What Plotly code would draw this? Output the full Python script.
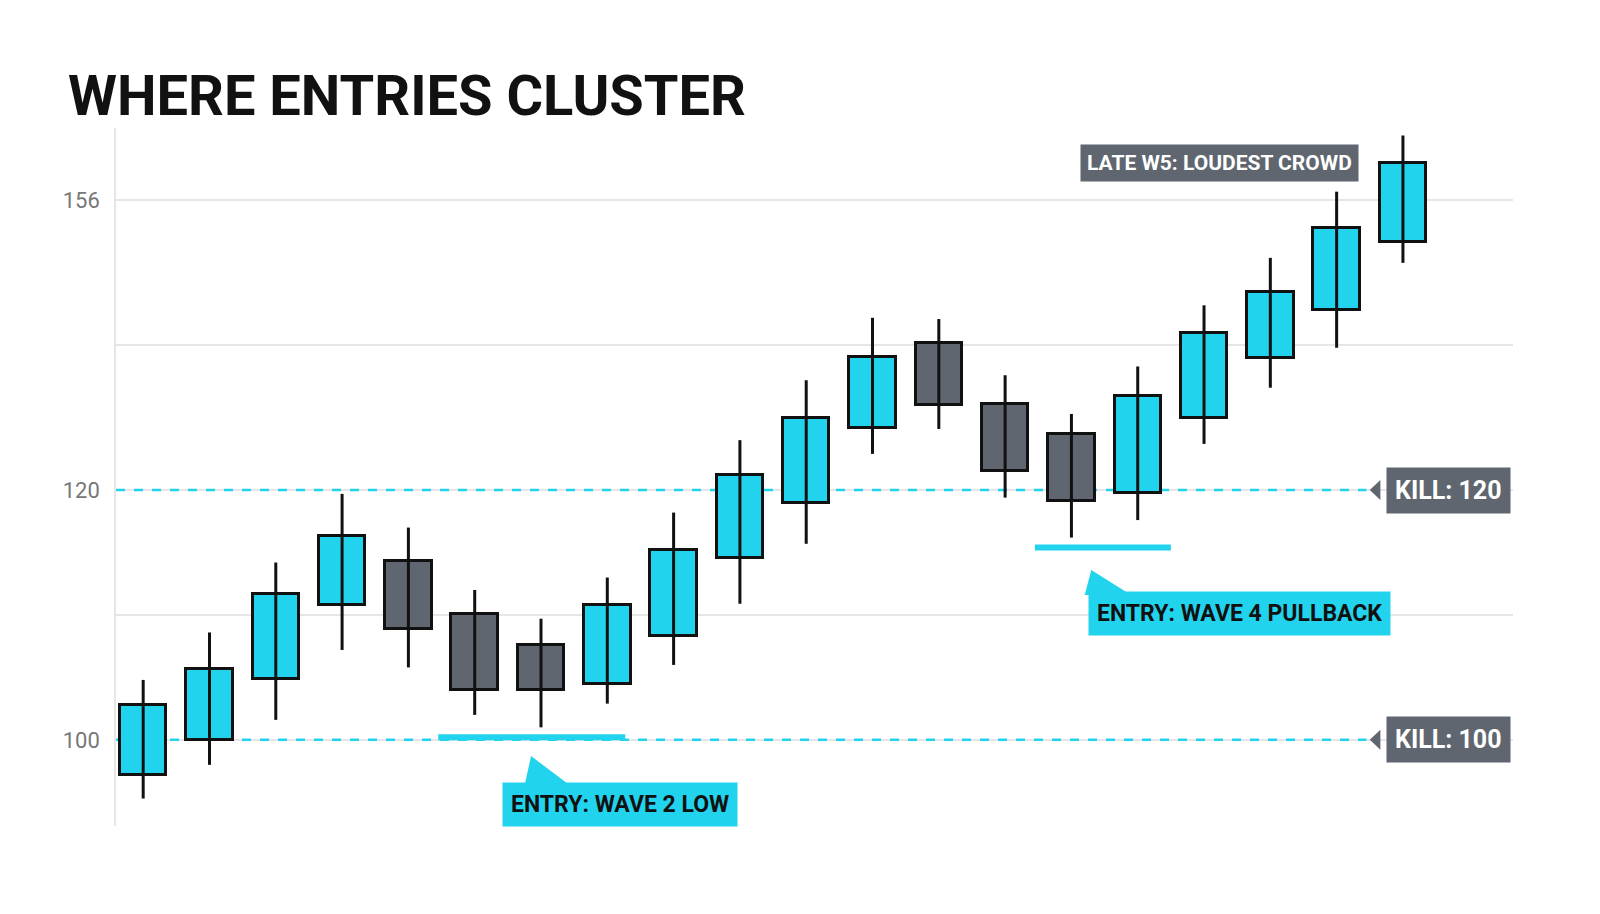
import plotly.graph_objects as go

# candle data
opens  = [97.2, 100.0, 104.9, 110.8, 114.3, 110.1, 107.6, 104.5, 108.3, 114.6,
          119.0, 125.0, 131.8, 126.9, 124.5, 119.8, 125.8, 130.6, 134.4, 139.9]
closes = [102.8, 105.7, 111.7, 116.3, 108.9, 104.0, 104.0, 110.8, 115.2, 121.2,
          125.8, 130.7, 126.8, 121.5, 119.1, 127.5, 132.6, 135.9, 141.0, 146.2]
highs  = [104.8, 108.6, 114.2, 119.7, 117.0, 112.0, 109.7, 113.0, 118.2, 124.0,
          128.8, 133.8, 133.7, 129.2, 126.1, 129.9, 134.8, 138.6, 143.9, 148.4]
lows   = [95.3, 98.0, 101.6, 107.2, 105.8, 102.0, 101.0, 102.9, 106.0, 110.9,
          115.7, 122.9, 124.9, 119.4, 116.2, 117.6, 123.7, 128.2, 131.4, 138.2]
grid_vals = [100, 110, 120, 131.6, 143.2]
grid_text = ["100", "", "120", "", "156"]
kill_levels = [100, 120]

CYAN = "#22d3ee"
GRAY = "#5f6670"
FONT = "Roboto, sans-serif"

x = list(range(len(opens)))
colors = [CYAN if c >= o else GRAY for o, c in zip(opens, closes)]

fig = go.Figure()

# wicks
wx, wy = [], []
for i in x:
    wx += [i, i, None]
    wy += [lows[i], highs[i], None]
fig.add_trace(go.Scatter(x=wx, y=wy, mode="lines", line=dict(color="#111", width=3),
                         hoverinfo="skip", showlegend=False))

# bodies
fig.add_trace(go.Bar(x=x, y=[abs(c - o) for o, c in zip(opens, closes)],
                     base=[min(o, c) for o, c in zip(opens, closes)],
                     width=0.7, marker=dict(color=colors, line=dict(color="#111", width=3)),
                     showlegend=False))

shapes = []
annotations = []
for k in kill_levels:
    shapes.append(dict(type="line", xref="x", yref="y", x0=-0.41, x1=18.45, y0=k, y1=k,
                       line=dict(color=CYAN, width=2.5, dash="dash"), layer="between"))
    shapes.append(dict(type="path", xref="x", yref="y",
                       path=f"M 18.5 {k} L 18.66 {k+0.8} L 18.66 {k-0.8} Z",
                       fillcolor=GRAY, line=dict(width=0)))
    annotations.append(dict(x=19.68, y=k, xref="x", yref="y", text=f"<b>KILL: {k}</b>",
                            showarrow=False, bgcolor=GRAY, font=dict(color="white", size=25, family=FONT),
                            borderpad=8))

# entry zones
shapes.append(dict(type="line", xref="x", yref="y", x0=4.45, x1=7.27, y0=100.2, y1=100.2,
                   line=dict(color=CYAN, width=6)))
shapes.append(dict(type="line", xref="x", yref="y", x0=13.45, x1=15.5, y0=115.4, y1=115.4,
                   line=dict(color=CYAN, width=6)))
shapes.append(dict(type="path", xref="x", yref="y",
                   path="M 5.75 96.3 L 5.85 98.7 L 6.45 96.3 Z", fillcolor=CYAN, line=dict(width=0)))
shapes.append(dict(type="path", xref="x", yref="y",
                   path="M 14.2 111.6 L 14.3 113.6 L 14.9 111.6 Z", fillcolor=CYAN, line=dict(width=0)))
shapes.append(dict(type="path", xref="x", yref="y",
                   path="M 18.1 147.0 L 18.3 146.2 L 18.1 145.4 Z", fillcolor=GRAY, line=dict(width=0)))

annotations.append(dict(x=7.19, y=94.8, xref="x", yref="y", text="<b>ENTRY: WAVE 2 LOW</b>",
                        showarrow=False, bgcolor=CYAN, font=dict(color="#111", size=23, family=FONT),
                        borderpad=8))
annotations.append(dict(x=16.53, y=110.1, xref="x", yref="y", text="<b>ENTRY: WAVE 4 PULLBACK</b>",
                        showarrow=False, bgcolor=CYAN, font=dict(color="#111", size=23, family=FONT),
                        borderpad=8))
annotations.append(dict(x=16.23, y=146.2, xref="x", yref="y", text="<b>LATE W5: LOUDEST CROWD</b>",
                        showarrow=False, bgcolor=GRAY, font=dict(color="white", size=21, family=FONT),
                        borderpad=6))
annotations.append(dict(xref="paper", yref="paper", x=-0.036, y=1.046, xanchor="left", yanchor="middle",
                        text="<b>WHERE ENTRIES CLUSTER</b>", showarrow=False,
                        font=dict(color="#111", size=56, family=FONT)))

fig.update_layout(
    width=1600, height=914, plot_bgcolor="white", paper_bgcolor="white",
    margin=dict(l=108, r=95, t=120, b=96, autoexpand=False),
    shapes=shapes, annotations=annotations, bargap=0,
    xaxis=dict(range=[-0.41, 20.66], showticklabels=False, showgrid=False, zeroline=False,
               automargin=False),
    yaxis=dict(range=[93.1, 149], tickvals=grid_vals, ticktext=grid_text, gridcolor="#e6e6e6",
               gridwidth=1.5, zeroline=False, showline=True, linecolor="#e6e6e6", linewidth=1.5,
               tickfont=dict(color="#777", size=22, family="Roboto"), ticks="", ticklabelstandoff=10,
               automargin=False),
)

fig.write_html("out.html")
